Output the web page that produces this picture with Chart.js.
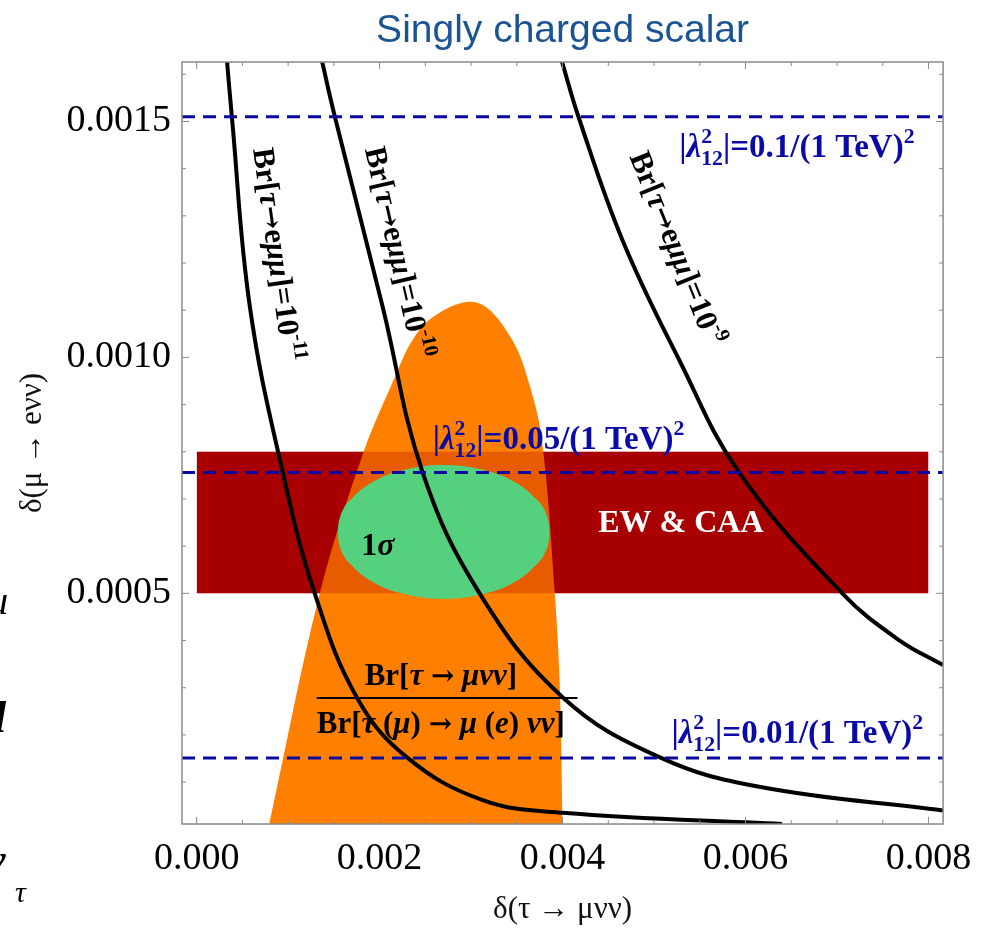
<!DOCTYPE html>
<html>
<head>
<meta charset="utf-8">
<script src="https://cdn.jsdelivr.net/npm/chart.js@4.4.1/dist/chart.umd.min.js"></script>
<style>
  body { margin: 0; background: #fff; }
  canvas { display: block; }
</style>
</head>
<body>
<canvas id="chartCanvas" width="984" height="928"></canvas>
<script>
// Plot range
var xRange = [-0.00016, 0.00816]
var yRange = [0.0000112, 0.001626]

// Br[tau -> e mu mu] contours
var br11X = [0.000331, 0.000385, 0.000582, 0.000942, 0.001291, 0.00175, 0.002296, 0.003126, 0.004, 0.0064]
var br11Y = [0.00163, 0.00151, 0.001107, 0.000756, 0.0005, 0.00028, 0.000153, 0.000062, 0.000035, 0.0000112]
var br10X = [0.001368, 0.001511, 0.002034, 0.002471, 0.003093, 0.004, 0.005058, 0.00615, 0.008158]
var br10Y = [0.00163, 0.00151, 0.001107, 0.000756, 0.0005, 0.00028, 0.000153, 0.00009, 0.00004]
var br9X = [0.003989, 0.004174, 0.004654, 0.005277, 0.005931, 0.007058, 0.007678, 0.008158]
var br9Y = [0.00163, 0.00151, 0.001249, 0.000994, 0.000756, 0.0005, 0.000401, 0.000348]

// tau -> mu nu nu ratio region (orange)
var ratioX = [0.000793, 0.001346, 0.00182, 0.002166, 0.00236, 0.00258, 0.00293, 0.00317, 0.00345, 0.0036, 0.00377, 0.003915, 0.00397, 0.004]
var ratioY = [0.0000112, 0.0005, 0.000797, 0.000958, 0.001037, 0.001085, 0.001117, 0.001106, 0.001037, 0.000967, 0.000831, 0.0005, 0.000302, 0.0000112]

// EW & CAA band
var bandX = [0, 0.008]
var bandTop = 0.0008
var bandBottom = 0.0005

// 1 sigma ellipse, upper and lower edge
var sigmaX = [0.00154, 0.00156, 0.00161, 0.00167, 0.00189, 0.00222, 0.0027, 0.00318, 0.00351, 0.00373, 0.00379, 0.00384, 0.00386]
var sigmaUpY = [0.00063, 0.000657, 0.000681, 0.000696, 0.000732, 0.000759, 0.000772, 0.000759, 0.000732, 0.000696, 0.000681, 0.000657, 0.00063]
var sigmaLowY = [0.00063, 0.000602, 0.000579, 0.000564, 0.000528, 0.000501, 0.000488, 0.000501, 0.000528, 0.000564, 0.000579, 0.000602, 0.00063]

// |lambda_12|^2 = 0.1, 0.05, 0.01 /(1 TeV)^2
var lambdaLevels = [0.00151, 0.000756, 0.000151]

function pts(xs, ys) {
    return xs.map(function(x, i) { return { x: x, y: ys[i] } })
}

var datasets = []
lambdaLevels.forEach(function(v) {
    datasets.push({
        data: pts(xRange, [v, v]), showLine: true, borderColor: '#0a0aa0', borderWidth: 3,
        borderDash: [13, 8], pointRadius: 0, fill: false, order: 0
    })
})
;[[br11X, br11Y], [br10X, br10Y], [br9X, br9Y]].forEach(function(c) {
    datasets.push({
        data: pts(c[0], c[1]), showLine: true, borderColor: '#000', borderWidth: 4,
        tension: 0.4, pointRadius: 0, fill: false, order: 1
    })
})
// ellipse: upper edge filled down to the lower edge (next dataset)
datasets.push({
    data: pts(sigmaX, sigmaUpY), showLine: true, borderColor: 'transparent', borderWidth: 0,
    tension: 0.4, pointRadius: 0, fill: '+1', backgroundColor: '#55d07e', order: 2
})
datasets.push({
    data: pts(sigmaX, sigmaLowY), showLine: true, borderColor: 'transparent', borderWidth: 0,
    tension: 0.4, pointRadius: 0, fill: false, order: 2
})
// band tint on top of the orange region
datasets.push({
    data: pts(bandX, [bandTop, bandTop]), showLine: true, borderColor: 'transparent', borderWidth: 0,
    pointRadius: 0, fill: { value: bandBottom }, backgroundColor: 'rgba(168,0,0,0.28)', order: 3
})
datasets.push({
    data: pts(ratioX, ratioY), showLine: true, borderColor: 'transparent', borderWidth: 0,
    tension: 0.35, pointRadius: 0, fill: 'start', backgroundColor: '#ff8000', order: 4
})
datasets.push({
    data: pts(bandX, [bandTop, bandTop]), showLine: true, borderColor: 'transparent', borderWidth: 0,
    pointRadius: 0, fill: { value: bandBottom }, backgroundColor: '#a80000', order: 5
})

// text placed in data coordinates
var brParts = [['Br[', 'b'], ['τ', 'bi'], ['→', 'a'], ['e', 'b'], ['μμ', 'bi'], [']=10', 'b']]
var labels = [
    { x: 0.000615, y: 0.001441, angle: 82, color: '#000', size: 31, parts: brParts.concat([['-11', 'sup']]) },
    { x: 0.001837, y: 0.001441, angle: 77, color: '#000', size: 31, parts: brParts.concat([['-10', 'sup']]) },
    { x: 0.00473, y: 0.001426, angle: 68, color: '#000', size: 31, parts: brParts.concat([['-9', 'sup']]) },
    { x: 0.005276, y: 0.001424, angle: 0, color: '#0a0aa8', size: 33,
      parts: [['|', 'b'], ['λ', 'bi'], [['2', '12'], 'stack'], ['|=0.1/(1 TeV)', 'b'], ['2', 'sup']] },
    { x: 0.00258, y: 0.000806, angle: 0, color: '#0a0aa8', size: 33,
      parts: [['|', 'b'], ['λ', 'bi'], [['2', '12'], 'stack'], ['|=0.05/(1 TeV)', 'b'], ['2', 'sup']] },
    { x: 0.00519, y: 0.000183, angle: 0, color: '#0a0aa8', size: 33,
      parts: [['|', 'b'], ['λ', 'bi'], [['2', '12'], 'stack'], ['|=0.01/(1 TeV)', 'b'], ['2', 'sup']] },
    { x: 0.00439, y: 0.00063, angle: 0, color: '#fff', size: 32,
      parts: [['EW & CAA', 'b']] },
    { x: 0.0018, y: 0.000581, angle: 0, color: '#000', size: 32,
      parts: [['1', 'b'], ['σ', 'bi']] },
    { x: 0.001837, y: 0.000306, angle: 0, color: '#000', size: 31,
      parts: [['Br[', 'b'], ['τ', 'bi'], [' ', 'b'], ['→', 'a'], [' ', 'b'], ['μνν', 'bi'], [']', 'b']] },
    { x: 0.001313, y: 0.000204, angle: 0, color: '#000', size: 31,
      parts: [['Br[', 'b'], ['τ', 'bi'], [' (', 'b'], ['μ', 'bi'], [') ', 'b'], ['→', 'a'], [' ', 'b'], ['μ', 'bi'], [' (', 'b'], ['e', 'bi'], [') ', 'b'], ['νν', 'bi'], [']', 'b']] }
]
var fractionBar = { x0: 0.001313, x1: 0.004163, y: 0.000278 }

function richText(ctx, parts, size) {
    var x = 0
    parts.forEach(function(p) {
        var t = p[0], st = p[1], small = size * 0.66
        if (st === 'stack') {
            ctx.font = 'bold ' + small + 'px "Liberation Serif"'
            ctx.fillText(t[0], x, -size * 0.42)
            ctx.fillText(t[1], x, size * 0.24)
            x += Math.max(ctx.measureText(t[0]).width, ctx.measureText(t[1]).width)
            return
        }
        if (st === 'a') {
            ctx.font = 'bold ' + (size * 0.9) + 'px "DejaVu Serif"'
        } else {
            var italic = st === 'bi' ? 'italic ' : ''
            var sz = (st === 'sup' || st === 'sub') ? small : size
            ctx.font = italic + 'bold ' + sz + 'px "Liberation Serif"'
        }
        var dy = st === 'sup' ? -size * 0.42 : (st === 'sub' ? size * 0.22 : 0)
        ctx.fillText(t, x, dy)
        x += ctx.measureText(t).width
    })
}

var labelPlugin = {
    id: 'labels',
    afterDatasetsDraw: function(chart) {
        var ctx = chart.ctx, xs = chart.scales.x, ys = chart.scales.y
        ctx.save()
        ctx.textBaseline = 'alphabetic'
        ctx.textAlign = 'left'
        // fraction bar
        ctx.strokeStyle = '#000'
        ctx.lineWidth = 2
        ctx.beginPath()
        ctx.moveTo(xs.getPixelForValue(fractionBar.x0), ys.getPixelForValue(fractionBar.y))
        ctx.lineTo(xs.getPixelForValue(fractionBar.x1), ys.getPixelForValue(fractionBar.y))
        ctx.stroke()
        labels.forEach(function(l) {
            ctx.save()
            ctx.translate(xs.getPixelForValue(l.x), ys.getPixelForValue(l.y))
            ctx.rotate(l.angle * Math.PI / 180)
            ctx.fillStyle = l.color
            richText(ctx, l.parts, l.size)
            ctx.restore()
        })
        ctx.restore()
    },
    afterDraw: function(chart) {
        var ctx = chart.ctx, a = chart.chartArea
        ctx.save()
        ctx.strokeStyle = '#8a8a8a'
        ctx.lineWidth = 1.5
        ctx.strokeRect(a.left, a.top, a.right - a.left, a.bottom - a.top)
        ctx.lineWidth = 1
        ctx.beginPath()
        chart.scales.x.ticks.forEach(function(t) {
            var px = chart.scales.x.getPixelForValue(t.value)
            var len = t.label ? 7 : 4
            ctx.moveTo(px, a.bottom); ctx.lineTo(px, a.bottom - len)
            ctx.moveTo(px, a.top); ctx.lineTo(px, a.top + len)
        })
        chart.scales.y.ticks.forEach(function(t) {
            var py = chart.scales.y.getPixelForValue(t.value)
            var len = t.label ? 7 : 4
            ctx.moveTo(a.left, py); ctx.lineTo(a.left + len, py)
            ctx.moveTo(a.right, py); ctx.lineTo(a.right - len, py)
        })
        ctx.stroke()
        // pieces of slide text showing at the left edge
        ctx.fillStyle = '#000'
        ctx.font = 'italic 40px "Liberation Serif"'
        ctx.fillText('μ', -12, 614)
        ctx.font = 'italic bold 44px "Liberation Serif"'
        ctx.fillText('l', -6, 732)
        ctx.fillText('ν', -14, 874)
        ctx.font = 'italic 30px "Liberation Serif"'
        ctx.fillText('τ', 15, 902)
        ctx.restore()
    }
}

var tickFont = { family: 'Liberation Serif', size: 38 }
var axisFont = { family: 'Liberation Serif', size: 31 }

var ctx = document.getElementById('chartCanvas').getContext('2d')
var myChart = new Chart(ctx, {
    type: 'scatter',
    data: { datasets: datasets },
    options: {
        responsive: false,
        animation: false,
        devicePixelRatio: 1,
        layout: { padding: { left: 0, right: 40, top: 0, bottom: 0 } },
        plugins: {
            legend: { display: false },
            tooltip: { enabled: false },
            title: {
                display: true,
                text: 'Singly charged scalar',
                color: '#1a5494',
                fullSize: false,
                font: { family: 'Liberation Sans', size: 39, weight: 'normal' },
                padding: { top: 8, bottom: 7.2 }
            }
        },
        scales: {
            x: {
                type: 'linear',
                min: xRange[0],
                max: xRange[1],
                grid: { display: false, drawTicks: false },
                border: { display: false },
                ticks: {
                    stepSize: 0.0005, includeBounds: false, autoSkip: false,
                    maxRotation: 0, minRotation: 0, padding: 12, color: '#000', font: tickFont,
                    callback: function(v) { return Math.round(v / 0.0005) % 4 === 0 ? v.toFixed(3) : '' }
                },
                title: {
                    display: true, text: 'δ(τ → μνν)', color: '#111',
                    font: axisFont, padding: { top: 0, bottom: 0 }
                },
                afterFit: function(s) { s.height = 104 }
            },
            y: {
                type: 'linear',
                min: yRange[0],
                max: yRange[1],
                grid: { display: false, drawTicks: false },
                border: { display: false },
                ticks: {
                    stepSize: 0.0001, includeBounds: false, autoSkip: false,
                    padding: 11, color: '#000', font: tickFont,
                    callback: function(v) { return Math.round(v / 0.0001) % 5 === 0 ? v.toFixed(4) : '' }
                },
                title: {
                    display: true, text: 'δ(μ → eνν)', color: '#111',
                    font: axisFont, padding: { top: 14, bottom: 0 }
                },
                afterFit: function(s) { s.width = 182 }
            }
        }
    },
    plugins: [labelPlugin]
})
</script>
</body>
</html>
